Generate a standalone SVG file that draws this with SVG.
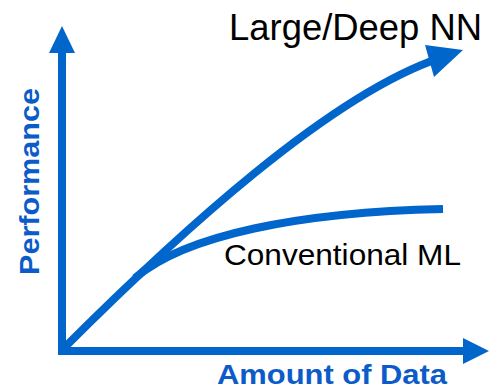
<svg xmlns="http://www.w3.org/2000/svg" width="490" height="391" viewBox="0 0 490 391">
<style>
.ln{fill:none;stroke:#0066cc;stroke-width:8}
.hd{fill:#0066cc}
.lbl{font-family:"Liberation Sans",Arial,sans-serif;fill:#000}
.ax{font-family:"Liberation Sans",Arial,sans-serif;font-weight:bold;fill:#0b5cc9}
</style>
<rect width="490" height="391" fill="#fff"/>
<g id="axes">
<path class="ln" d="M62,355 V50"/>
<polygon class="hd" points="62,26 49,53 75,53"/>
<path class="ln" d="M58,351 H466"/>
<polygon class="hd" points="489,351 463,338 463,364"/>
</g>
<g id="connectors">
<path id="deep-curve" class="ln" d="M63,349 C180,232 330,95 440,58"/>
<polygon class="hd" points="463,50 425,45 434,77"/>
<path id="ml-curve" class="ln" d="M135,278 C185,235 300,212 443,209"/>
</g>
<g id="label-deep"><text class="lbl" x="229" y="40" font-size="36" textLength="253" lengthAdjust="spacingAndGlyphs">Large/Deep NN</text></g>
<g id="label-ml"><text class="lbl" x="224" y="265" font-size="29" textLength="237" lengthAdjust="spacingAndGlyphs">Conventional ML</text></g>
<g id="label-x"><text class="ax" x="217" y="384" font-size="28" textLength="230" lengthAdjust="spacingAndGlyphs">Amount of Data</text></g>
<g id="label-y"><text class="ax" transform="translate(39,275) rotate(-90)" x="0" y="0" font-size="28" textLength="187" lengthAdjust="spacingAndGlyphs">Performance</text></g>
</svg>
